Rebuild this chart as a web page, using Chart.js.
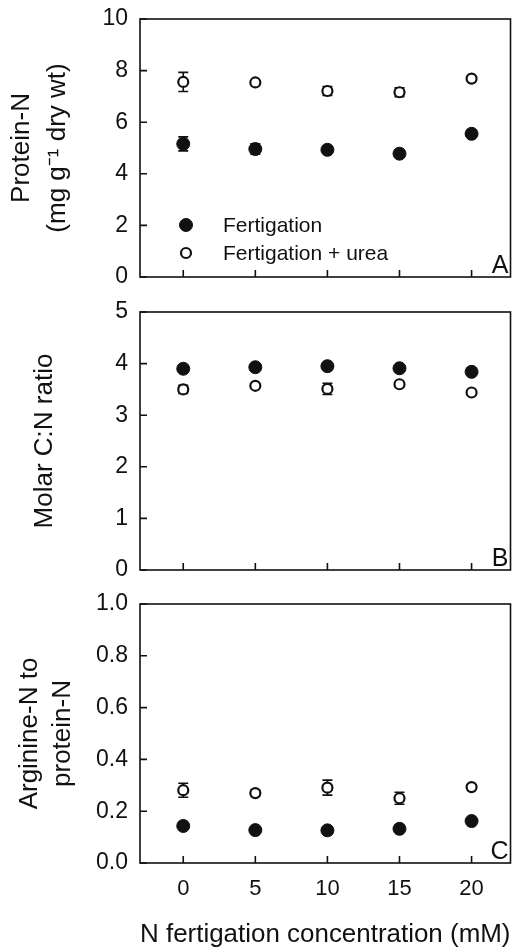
<!DOCTYPE html>
<html>
<head>
<meta charset="utf-8">
<script src="https://cdn.jsdelivr.net/npm/chart.js@4.4.0/dist/chart.umd.min.js"></script>
<style>
  html, body { margin: 0; padding: 0; background: #fff; overflow: hidden; }
  .panel { position: absolute; left: 0; width: 518px; }
</style>
</head>
<body>
<div class="panel" style="top:-11px;height:318px"><canvas id="chartA"></canvas></div>
<div class="panel" style="top:282px;height:318px"><canvas id="chartB"></canvas></div>
<div class="panel" style="top:574px;height:377px"><canvas id="chartC"></canvas></div>
<script>
const xValues = [0, 5, 10, 15, 20];
const seriesNames = ["Fertigation", "Fertigation + urea"];

// Panel A - protein-N
const proteinFert = [5.16, 4.96, 4.93, 4.78, 5.55];
const proteinFertErr = [0.27, 0.2, 0.05, 0.05, 0.05];
const proteinUrea = [7.56, 7.54, 7.21, 7.16, 7.69];
const proteinUreaErr = [0.37, 0.05, 0.17, 0.17, 0.05];
const proteinTicks = [0, 2, 4, 6, 8, 10];

// Panel B - molar C:N
const cnFert = [3.90, 3.93, 3.95, 3.91, 3.84];
const cnFertErr = [0.03, 0.03, 0.03, 0.03, 0.03];
const cnUrea = [3.50, 3.57, 3.51, 3.60, 3.44];
const cnUreaErr = [0.08, 0.03, 0.11, 0.03, 0.03];
const cnTicks = [0, 1, 2, 3, 4, 5];

// Panel C - arginine-N / protein-N
const argFert = [0.143, 0.127, 0.126, 0.132, 0.162];
const argFertErr = [0.012, 0.005, 0.005, 0.005, 0.005];
const argUrea = [0.281, 0.270, 0.291, 0.250, 0.293];
const argUreaErr = [0.027, 0.012, 0.029, 0.023, 0.008];
const argTicks = [0, 0.2, 0.4, 0.6, 0.8, 1.0];

const FONT = "'Liberation Sans', Arial, sans-serif";
const INK = '#111';

// error bars, inside ticks, frame, panel letter and legend
const decor = {
  id: 'decor',
  beforeDatasetsDraw(chart) {
    const ctx = chart.ctx, x = chart.scales.x, y = chart.scales.y;
    ctx.save();
    ctx.strokeStyle = INK;
    ctx.lineWidth = 1.6;
    chart.data.datasets.forEach(ds => {
      if (!ds.errors) return;
      ds.data.forEach((pt, i) => {
        const px = x.getPixelForValue(pt.x);
        const top = y.getPixelForValue(pt.y + ds.errors[i]);
        const bot = y.getPixelForValue(pt.y - ds.errors[i]);
        ctx.beginPath();
        ctx.moveTo(px, top); ctx.lineTo(px, bot);
        ctx.moveTo(px - 5, top); ctx.lineTo(px + 5, top);
        ctx.moveTo(px - 5, bot); ctx.lineTo(px + 5, bot);
        ctx.stroke();
      });
    });
    ctx.restore();
  },
  afterDraw(chart, args, opts) {
    const ctx = chart.ctx, a = chart.chartArea;
    const x = chart.scales.x, y = chart.scales.y;
    ctx.save();
    ctx.strokeStyle = INK;
    ctx.lineWidth = 1.6;
    ctx.strokeRect(a.left, a.top, a.right - a.left, a.bottom - a.top);
    ctx.beginPath();
    y.ticks.forEach(t => {
      const py = y.getPixelForValue(t.value);
      ctx.moveTo(a.left, py); ctx.lineTo(a.left + 7, py);
    });
    x.ticks.forEach(t => {
      const px = x.getPixelForValue(t.value);
      ctx.moveTo(px, a.bottom); ctx.lineTo(px, a.bottom - 7);
    });
    ctx.stroke();

    ctx.fillStyle = INK;
    ctx.font = '25px ' + FONT;
    ctx.textAlign = 'right';
    ctx.textBaseline = 'alphabetic';
    ctx.fillText(opts.letter, a.right - 2, a.bottom - 4);

    if (opts.legend) {
      ctx.font = '21px ' + FONT;
      ctx.textAlign = 'left';
      ctx.textBaseline = 'middle';
      chart.data.datasets.forEach((ds, i) => {
        const mx = a.left + 46, my = a.top + 206 + i * 28;
        ctx.beginPath();
        ctx.arc(mx, my, ds.pointRadius, 0, Math.PI * 2);
        ctx.fillStyle = ds.pointBackgroundColor;
        ctx.fill();
        ctx.lineWidth = ds.pointBorderWidth;
        ctx.strokeStyle = INK;
        ctx.stroke();
        ctx.fillStyle = INK;
        ctx.fillText(ds.label, a.left + 83, my + 1);
      });
    }
    ctx.restore();
  }
};

function toPoints(vals) {
  return vals.map((v, i) => ({ x: xValues[i], y: v }));
}

function makePanel(id, p) {
  return new Chart(document.getElementById(id), {
    type: 'scatter',
    data: {
      datasets: [
        { label: seriesNames[0], data: toPoints(p.fert), errors: p.fertErr,
          pointRadius: 6.5, pointBackgroundColor: INK, pointBorderColor: INK, pointBorderWidth: 1 },
        { label: seriesNames[1], data: toPoints(p.urea), errors: p.ureaErr,
          pointRadius: 5, pointBackgroundColor: '#fff', pointBorderColor: INK, pointBorderWidth: 2.2 }
      ]
    },
    options: {
      responsive: true,
      maintainAspectRatio: false,
      animation: false,
      events: [],
      layout: { padding: { top: 30, right: 3, left: 0, bottom: 0 } },
      plugins: {
        legend: { display: false },
        tooltip: { enabled: false },
        decor: { letter: p.letter, legend: p.legend }
      },
      scales: {
        x: {
          type: 'linear', min: -3, max: 22.7,
          afterBuildTicks: s => { s.ticks = xValues.map(v => ({ value: v })); },
          afterFit: s => { s.height = p.xHeight; },
          grid: { display: false, drawTicks: false },
          border: { display: false },
          ticks: { display: p.xLabels, padding: 13, color: INK, font: { family: FONT, size: 22 } },
          title: { display: p.xLabels, text: 'N fertigation concentration (mM)', color: INK,
                   font: { family: FONT, size: 26, lineHeight: 1.2 }, padding: { top: 0, bottom: 1 } }
        },
        y: {
          min: p.yTicks[0], max: p.yTicks[p.yTicks.length - 1],
          afterBuildTicks: s => { s.ticks = p.yTicks.map(v => ({ value: v })); },
          afterFit: s => { s.width = 140; },
          grid: { display: false, drawTicks: false },
          border: { display: false },
          ticks: { padding: 12, color: INK, font: { family: FONT, size: 23 },
                   callback: v => p.decimals ? v.toFixed(1) : String(v) },
          title: { display: true, text: p.yTitle, color: INK,
                   font: { family: FONT, size: 26, lineHeight: p.titleLh }, padding: { top: p.titlePad, bottom: 0 } }
        }
      }
    },
    plugins: [decor]
  });
}

makePanel('chartA', {
  fert: proteinFert, fertErr: proteinFertErr, urea: proteinUrea, ureaErr: proteinUreaErr,
  yTicks: proteinTicks, decimals: false, letter: 'A', legend: true,
  yTitle: ['Protein-N', '(mg g\u207B\u00B9 dry wt)'], titleLh: 36 / 26, titlePad: 4,
  xHeight: 30, xLabels: false
});

makePanel('chartB', {
  fert: cnFert, fertErr: cnFertErr, urea: cnUrea, ureaErr: cnUreaErr,
  yTicks: cnTicks, decimals: false, letter: 'B', legend: false,
  yTitle: 'Molar C:N ratio', titleLh: 36 / 26, titlePad: 27,
  xHeight: 30, xLabels: false
});

makePanel('chartC', {
  fert: argFert, fertErr: argFertErr, urea: argUrea, ureaErr: argUreaErr,
  yTicks: argTicks, decimals: true, letter: 'C', legend: false,
  yTitle: ['Arginine-N to', 'protein-N'], titleLh: 33 / 26, titlePad: 13,
  xHeight: 88, xLabels: true
});
</script>
</body>
</html>
